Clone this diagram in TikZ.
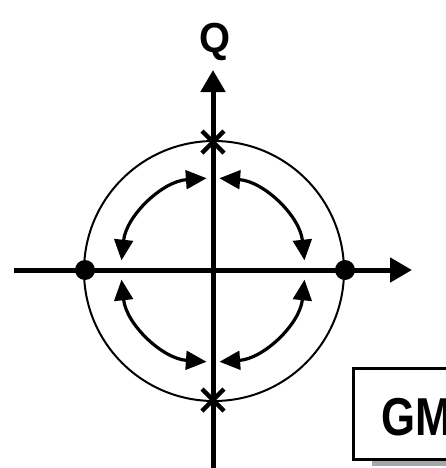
\documentclass[tikz,border=0pt]{standalone}
\usepackage{fontspec}
\usepackage{graphicx}
\setmainfont{Liberation Sans}
\usetikzlibrary{arrows.meta,calc}
\tikzset{
  axisline/.style={line width=3.75pt, -{Triangle[length=16.5pt,width=18pt]}},
  ringline/.style={line width=1.5pt},
  swing/.style={line width=2.4pt, {Triangle[length=15.5pt,width=14pt]}-{Triangle[length=15.5pt,width=14pt]}},
  crossmark/.style={line width=3.2pt},
  dotmark/.style={circle, fill=black, inner sep=0pt, minimum size=15pt},
  labeltext/.style={font=\bfseries\fontsize{31.5}{32}\selectfont, inner sep=0pt},
  gmbox/.style={draw, line width=2.25pt, fill=white}
}
\begin{document}
\begin{tikzpicture}[x=0.75pt,y=-0.75pt]
\useasboundingbox (0,0) rectangle (446,468);
\coordinate (c) at (213,270);
\coordinate (xl) at (14,270);
\coordinate (xr) at (412,270);
\coordinate (yb) at (213,470);
\coordinate (yt) at (213,70);
% circle
\draw[ringline] (214,271) circle[radius=130];
% axes
\draw[axisline] (xl) -- (xr);
\draw[axisline] (yb) -- (yt);
% label Q
\node[labeltext, anchor=base] (q) at (215,52) {\scalebox{0.95}[1]{Q}};
% dots
\node[dotmark] (dl) at (85,270) {};
\node[dotmark] (dr) at (345,270) {};
% crosses
\coordinate (xt) at (213,142);
\coordinate (xb) at (213,400);
\draw[crossmark] ($(xt)+(-11,-11)$) -- ($(xt)+(11,11)$) ($(xt)+(-11,11)$) -- ($(xt)+(11,-11)$);
\draw[crossmark] ($(xb)+(-11,-11)$) -- ($(xb)+(11,11)$) ($(xb)+(-11,11)$) -- ($(xb)+(11,-11)$);
% curved double arrows
\draw[swing] ($(c)+(-94:92)$) arc[start angle=-94, end angle=-174, radius=92];
\draw[swing] ($(c)+(-86:92)$) arc[start angle=-86, end angle=-6, radius=92];
\draw[swing] ($(c)+(94:92)$) arc[start angle=94, end angle=174, radius=92];
\draw[swing] ($(c)+(86:92)$) arc[start angle=86, end angle=6, radius=92];
% GM box with shadow
\fill[gray!70] (372,458) rectangle (450,466);
\draw[gmbox] (353,368) rectangle (460,459);
\node[labeltext, font=\bfseries\fontsize{40}{40}\selectfont, anchor=base west] (gm) at (381,435) {\scalebox{0.82}[1]{GM}};
\end{tikzpicture}
\end{document}
